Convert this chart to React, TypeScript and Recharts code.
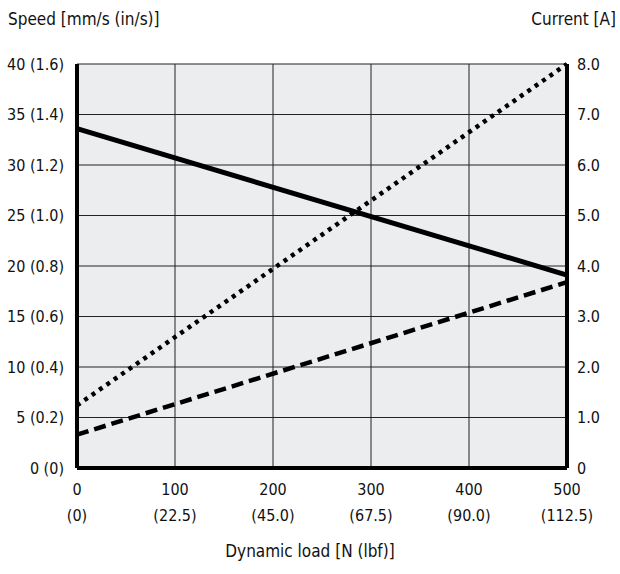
import * as React from "react";
import { LineChart, Line, XAxis, YAxis, CartesianGrid } from "recharts";

// dynamic load [N]
const load = [0, 500];
const loadLbf = ["(0)", "(22.5)", "(45.0)", "(67.5)", "(90.0)", "(112.5)"];
const loadTicks = [0, 100, 200, 300, 400, 500];

// speed [mm/s]
const speed = [33.6, 19.1];
// current [A]
const currentDotted = [1.24, 8.0];
const currentDashed = [0.66, 3.68];

const speedTicks = [0, 5, 10, 15, 20, 25, 30, 35, 40];
const speedInch = ["0", "0.2", "0.4", "0.6", "0.8", "1.0", "1.2", "1.4", "1.6"];
const currentTicks = [0, 1, 2, 3, 4, 5, 6, 7, 8];

const data = load.map((l, i) => ({
  load: l,
  speed: speed[i],
  dotted: currentDotted[i],
  dashed: currentDashed[i]
}));

const FONT = '"Liberation Sans Narrow", "DejaVu Sans Condensed", "Roboto", sans-serif';

const LoadTick = (props: any) => {
  const { x, y, payload } = props;
  const idx = loadTicks.indexOf(payload.value);
  return (
    <g>
      <text x={x} y={y + 25} textAnchor="middle" fontSize={16} fill="#111" fontFamily={FONT}>
        {payload.value}
      </text>
      <text x={x} y={y + 51} textAnchor="middle" fontSize={16} fill="#111" fontFamily={FONT}>
        {loadLbf[idx]}
      </text>
    </g>
  );
};

const App = () => {
  return (
    <div style={{ position: "absolute", left: 0, top: 0, width: 620, height: 574, fontFamily: FONT }}>
      <div style={{ position: "absolute", left: 8, top: 9, fontSize: 17, color: "#111" }}>
        Speed [mm/s (in/s)]
      </div>
      <div style={{ position: "absolute", right: 4, top: 9, fontSize: 17, color: "#111" }}>
        Current [A]
      </div>
      <div style={{ position: "absolute", left: 0, width: 620, top: 541, textAlign: "center", fontSize: 17, color: "#111" }}>
        Dynamic load [N (lbf)]
      </div>
      <LineChart
        width={620}
        height={574}
        data={data}
        margin={{ top: 64, right: 0, bottom: 46, left: 0 }}
      >
        <CartesianGrid
          yAxisId="left"
          stroke="#222"
          strokeWidth={1}
          fill="#ecedef"
          fillOpacity={1}
        />
        <XAxis
          dataKey="load"
          type="number"
          domain={[0, 500]}
          ticks={loadTicks}
          height={60}
          tickLine={false}
          tickSize={0}
          axisLine={{ stroke: "#000", strokeWidth: 4 }}
          tick={<LoadTick />}
          interval={0}
        />
        <YAxis
          yAxisId="left"
          type="number"
          domain={[0, 40]}
          ticks={speedTicks}
          width={77}
          tickLine={false}
          tickSize={0}
          tickMargin={13}
          axisLine={{ stroke: "#000", strokeWidth: 4 }}
          tick={{ fill: "#111", fontSize: 16, fontFamily: FONT }}
          tickFormatter={(v: number) => `${v} (${speedInch[speedTicks.indexOf(v)]})`}
          interval={0}
        />
        <YAxis
          yAxisId="right"
          orientation="right"
          type="number"
          domain={[0, 8]}
          ticks={currentTicks}
          width={53}
          tickLine={false}
          tickSize={0}
          tickMargin={10}
          axisLine={{ stroke: "#000", strokeWidth: 4 }}
          tick={{ fill: "#111", fontSize: 16, fontFamily: FONT, textAnchor: "start" }}
          tickFormatter={(v: number) => (v === 0 ? "0" : v.toFixed(1))}
          interval={0}
        />
        <Line
          yAxisId="left"
          dataKey="speed"
          stroke="#000"
          strokeWidth={5}
          dot={false}
          isAnimationActive={false}
        />
        <Line
          yAxisId="right"
          dataKey="dotted"
          stroke="#000"
          strokeWidth={4.5}
          strokeDasharray="4 5"
          dot={false}
          isAnimationActive={false}
        />
        <Line
          yAxisId="right"
          dataKey="dashed"
          stroke="#000"
          strokeWidth={4.5}
          strokeDasharray="12 6"
          dot={false}
          isAnimationActive={false}
        />
      </LineChart>
    </div>
  );
};

export default App;
